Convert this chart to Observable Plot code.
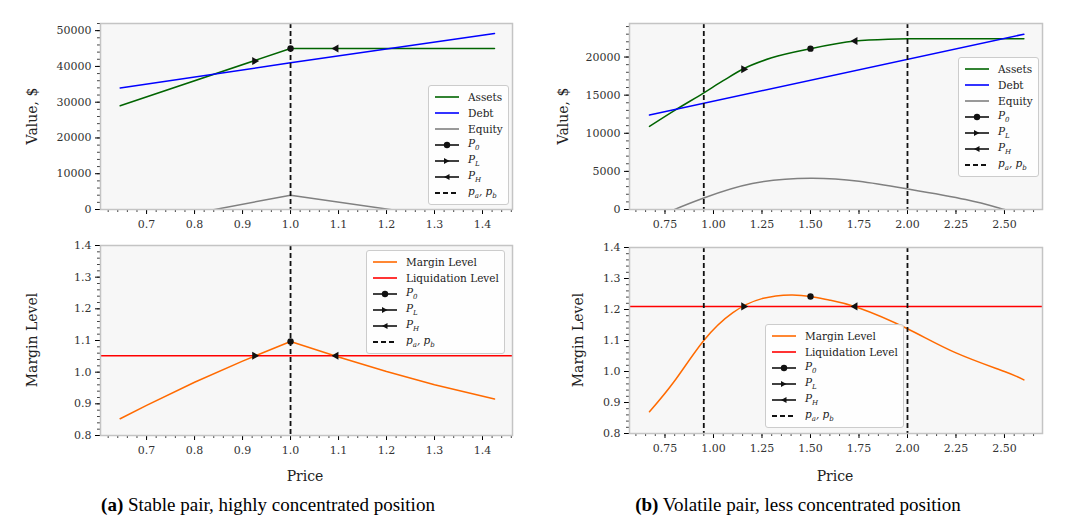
<!DOCTYPE html>
<html><head><meta charset="utf-8">
<script src="https://cdn.jsdelivr.net/npm/d3@7"></script>
<script src="https://cdn.jsdelivr.net/npm/@observablehq/plot@0.6"></script>
<style>
body{margin:0;width:1065px;height:532px;position:relative;background:#fff;font-family:"DejaVu Serif",serif;overflow:hidden}
.p{position:absolute}
svg text{font-family:"DejaVu Serif",serif !important}
.lab{position:absolute;font-size:14px;color:#222;font-family:"DejaVu Serif",serif}
.leg{position:absolute;border:1px solid #ccc;border-radius:3px;background:rgba(255,255,255,0.85);font-size:10.5px;padding:3px 5px;color:#222}
.leg div{height:16px;display:flex;align-items:center}
.leg svg{margin-right:8px}
.cap{position:absolute;font-family:"Liberation Serif",serif;font-size:19px;top:494px;color:#000;white-space:nowrap}
</style></head><body>
<script>
// ---- data: left (stable pair)
const aPrice = [0.645, 1.0, 1.425];
const aAssets = [29000, 45000, 45000];
const aDebtPrice = [0.645, 1.0, 1.425];
const aDebt = [34000, 41000, 49200];
const aEqPrice = [0.645, 1.0, 1.425];
const aEquity = [-5000, 4000, -4200];
const aMlPrice = [0.645, 0.7, 0.8, 0.9, 1.0, 1.1, 1.2, 1.3, 1.425];
const aMl = [0.853, 0.895, 0.968, 1.035, 1.097, 1.048, 1.002, 0.96, 0.915];
const aP0 = 1.0, aPL = 0.925, aPH = 1.095, aLiq = 1.052;
const aAssetsPL = 41500, aAssetsPH = 45000, aAssetsP0 = 45000, aMlP0 = 1.097;
const aBounds = [1.0];
// ---- data: right (volatile pair)
const bPrice = [0.67, 0.8, 0.95, 1.05, 1.15, 1.3, 1.5, 1.73, 1.9, 2.0, 2.3, 2.6];
const bAssets = [10900, 13000, 15300, 16900, 18400, 19900, 21100, 22100, 22350, 22400, 22400, 22400];
const bDebtPrice = [0.67, 2.6];
const bDebt = [12400, 23000];
const bEqPrice = [0.67, 0.8, 0.95, 1.2, 1.5, 1.75, 2.0, 2.3, 2.5, 2.6];
const bEquity = [-1500, 0, 1500, 3400, 4100, 3700, 2700, 1300, 0, -600];
const bMlPrice = [0.67, 0.8, 0.95, 1.1, 1.25, 1.4, 1.5, 1.6, 1.75, 2.0, 2.25, 2.5, 2.6];
const bMl = [0.87, 0.97, 1.10, 1.19, 1.235, 1.247, 1.242, 1.23, 1.205, 1.138, 1.06, 1.0, 0.973];
const bP0 = 1.5, bPL = 1.155, bPH = 1.73, bLiq = 1.21;
const bAssetsPL = 18400, bAssetsPH = 22100, bAssetsP0 = 21100, bMlP0 = 1.242;
const bBounds = [0.95, 2.0];

const zip = (xs, ys) => xs.map((x, i) => ({x, y: ys[i]}));
const FONT = "DejaVu Serif";

function panel({left, top, width, height, mt, mb, ml, mr, xd, yd, xt, xminor, yt, yminor, ytf, xtf, series, markers, bounds, hline}) {
  const marks = [
    Plot.frame({fill: "#f7f7f7", stroke: "none"}),
    Plot.axisX({ticks: xminor, tickSize: 3, tickFormat: null, text: null, stroke: "#444"}),
    Plot.axisY({ticks: yminor, tickSize: 3, text: null, stroke: "#444"}),
    Plot.axisX({ticks: xt, tickSize: 5, tickFormat: xtf, fontSize: 11, fill: "#333", tickPadding: 6}),
    Plot.axisY({ticks: yt, tickSize: 5, tickFormat: ytf, fontSize: 11, fill: "#333"}),
  ];
  if (hline != null) marks.push(Plot.ruleY([hline], {stroke: "red", strokeWidth: 1.5}));
  for (const s of series) marks.push(Plot.line(s.data, {x: "x", y: "y", stroke: s.color, strokeWidth: 1.5, clip: true, curve: s.curve || "linear"}));
  marks.push(Plot.ruleX(bounds, {stroke: "#111", strokeWidth: 1.8, strokeDasharray: "5,3"}));
  for (const m of markers) marks.push(Plot.dot([m], {x: "x", y: "y", symbol: m.s, r: m.s === "circle" ? 3.2 : 3, fill: "#111", rotate: m.rot || 0}));
  marks.push(Plot.frame({stroke: "#c4c4c4", strokeWidth: 1.5}));
  const p = Plot.plot({
    width, height, marginTop: mt, marginBottom: mb, marginLeft: ml, marginRight: mr,
    style: {fontFamily: FONT, background: "transparent", overflow: "visible"},
    x: {domain: xd, label: null, axis: null},
    y: {domain: yd, label: null, axis: null},
    marks
  });
  p.classList.add("p");
  p.style.left = left + "px"; p.style.top = top + "px";
  document.body.appendChild(p);
}
const R = (a, b, s) => d3.range(Math.round(a / s), Math.round(b / s) + 1).map(k => +(k * s).toFixed(6));

panel({left: 0, top: 0, width: 530, height: 240, mt: 23, mb: 31, ml: 100, mr: 18,
  xd: [0.604, 1.4625], yd: [0, 52000], xt: R(0.7, 1.4, 0.1), xminor: R(0.62, 1.46, 0.02), xtf: d3.format(".1f"),
  yt: R(0, 50000, 10000), yminor: R(0, 52000, 2000), ytf: d3.format("d"),
  series: [{data: zip(aPrice, aAssets), color: "#006400"}, {data: zip(aDebtPrice, aDebt), color: "blue"}, {data: zip(aEqPrice, aEquity), color: "gray"}],
  markers: [{x: aP0, y: aAssetsP0, s: "circle"}, {x: aPL, y: aAssetsPL, s: "triangle", rot: 90}, {x: aPH, y: aAssetsPH, s: "triangle", rot: -90}],
  bounds: aBounds});
panel({left: 0, top: 225, width: 530, height: 240, mt: 20, mb: 30, ml: 100, mr: 18,
  xd: [0.604, 1.4625], yd: [0.8, 1.4], xt: R(0.7, 1.4, 0.1), xminor: R(0.62, 1.46, 0.02), xtf: d3.format(".1f"),
  yt: R(0.8, 1.4, 0.1), yminor: R(0.8, 1.4, 0.02), ytf: d3.format(".1f"),
  series: [{data: zip(aMlPrice, aMl), color: "#ff6a00"}],
  markers: [{x: aP0, y: aMlP0, s: "circle"}, {x: aPL, y: aLiq, s: "triangle", rot: 90}, {x: aPH, y: aLiq, s: "triangle", rot: -90}],
  bounds: aBounds, hline: aLiq});
panel({left: 530, top: 0, width: 530, height: 240, mt: 23, mb: 31, ml: 99, mr: 18,
  xd: [0.567, 2.696], yd: [0, 24400], xt: R(0.75, 2.5, 0.25), xminor: R(0.6, 2.65, 0.05), xtf: d3.format(".2f"),
  yt: R(0, 20000, 5000), yminor: R(0, 24000, 1000), ytf: d3.format("d"),
  series: [{data: zip(bPrice, bAssets), color: "#006400", curve: "monotone-x"}, {data: zip(bDebtPrice, bDebt), color: "blue"}, {data: zip(bEqPrice, bEquity), color: "gray", curve: "natural"}],
  markers: [{x: bP0, y: bAssetsP0, s: "circle"}, {x: bPL, y: bAssetsPL, s: "triangle", rot: 90}, {x: bPH, y: bAssetsPH, s: "triangle", rot: -90}],
  bounds: bBounds});
panel({left: 530, top: 225, width: 530, height: 240, mt: 22, mb: 32, ml: 99, mr: 18,
  xd: [0.567, 2.696], yd: [0.8, 1.4], xt: R(0.75, 2.5, 0.25), xminor: R(0.6, 2.65, 0.05), xtf: d3.format(".2f"),
  yt: R(0.8, 1.4, 0.1), yminor: R(0.8, 1.4, 0.02), ytf: d3.format(".1f"),
  series: [{data: zip(bMlPrice, bMl), color: "#ff6a00", curve: "natural"}],
  markers: [{x: bP0, y: bMlP0, s: "circle"}, {x: bPL, y: bLiq, s: "triangle", rot: 90}, {x: bPH, y: bLiq, s: "triangle", rot: -90}],
  bounds: bBounds, hline: bLiq});

function lab(t, x, y, rot) {
  const d = document.createElement("div"); d.className = "lab"; d.textContent = t;
  d.style.left = x + "px"; d.style.top = y + "px";
  d.style.transform = rot ? "translate(-50%,-50%) rotate(-90deg)" : "translate(-50%,-50%)";
  d.style.whiteSpace = "nowrap"; document.body.appendChild(d);
}
lab("Value, $", 32, 116, true); lab("Margin Level", 32, 340, true);
lab("Value, $", 563, 116, true); lab("Margin Level", 578, 340, true);
lab("Price", 305, 476); lab("Price", 835, 476);

function icon(kind, color) {
  let s = `<svg width="26" height="10">`;
  if (kind === "dash") s += `<line x1="1" y1="5" x2="25" y2="5" stroke="#111" stroke-width="1.8" stroke-dasharray="5,3"/>`;
  else s += `<line x1="1" y1="5" x2="25" y2="5" stroke="${color}" stroke-width="1.6"/>`;
  if (kind === "o") s += `<circle cx="13" cy="5" r="3.2" fill="#111"/>`;
  if (kind === "r") s += `<path d="M10,2 L15.5,5 L10,8Z" fill="#111"/>`;
  if (kind === "l") s += `<path d="M15.5,2 L10,5 L15.5,8Z" fill="#111"/>`;
  return s + `</svg>`;
}
const P = (s) => `<i>P</i><sub style="font-size:7px"><i>${s}</i></sub>`;
const pp = `<i>p<sub style="font-size:7px">a</sub>, p<sub style="font-size:7px">b</sub></i>`;
function legend(x, y, rows) {
  const d = document.createElement("div"); d.className = "leg";
  d.style.left = x + "px"; d.style.top = y + "px";
  d.innerHTML = rows.map(([k, c, t]) => `<div>${icon(k, c)}<span>${t}</span></div>`).join("");
  document.body.appendChild(d);
}
const common = [["o", "#111", P("0")], ["r", "#111", P("L")], ["l", "#111", P("H")], ["dash", "#111", pp]];
const valRows = [["line", "#006400", "Assets"], ["line", "blue", "Debt"], ["line", "gray", "Equity"], ...common];
const mlRows = [["line", "#ff6a00", "Margin Level"], ["line", "red", "Liquidation Level"], ...common];
legend(428, 85, valRows); legend(366, 250, mlRows);
legend(958, 57, valRows); legend(765, 324, mlRows);

function cap(x, letter, text) {
  const d = document.createElement("div"); d.className = "cap";
  d.innerHTML = `<b>(${letter})</b> ${text}`; d.style.left = x + "px"; d.style.transform = "translateX(-50%)";
  document.body.appendChild(d);
}
cap(268, "a", "Stable pair, highly concentrated position");
cap(798, "b", "Volatile pair, less concentrated position");
</script>
</body></html>
